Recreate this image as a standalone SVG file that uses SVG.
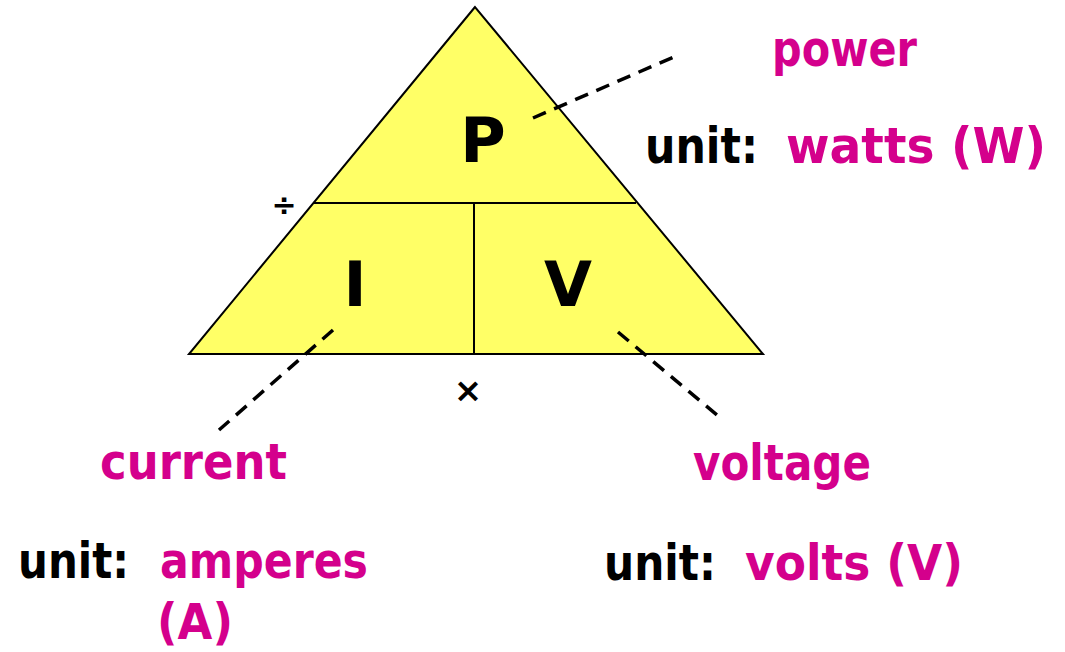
<svg xmlns="http://www.w3.org/2000/svg" width="1065" height="652" viewBox="0 0 1065 652">
<style>
.t{font-family:"DejaVu Sans","Liberation Sans",sans-serif;font-weight:bold;}
.k{fill:#000;}
.m{fill:#D4008C;}
.big{font-size:62px;text-anchor:middle;}
.lab{font-size:50px;}
.dash{stroke:#000;stroke-width:3.5;stroke-dasharray:14 9;fill:none;}
</style>
<rect width="1065" height="652" fill="#fff"/>
<g id="triangle">
<polygon points="475,7 189,354 763,354" fill="#FFFF66" stroke="#000" stroke-width="2"/>
<line x1="314" y1="203" x2="636" y2="203" stroke="#000" stroke-width="2"/>
<line x1="474" y1="203" x2="474" y2="354" stroke="#000" stroke-width="2"/>
</g>
<g id="node-P"><text class="t k big" x="483" y="162">P</text></g>
<g id="node-I"><text class="t k big" x="355" y="306">I</text></g>
<g id="node-V"><text class="t k big" x="568" y="306">V</text></g>
<g id="ops">
<text class="t k" x="284" y="215" font-size="30" text-anchor="middle">÷</text>
<text class="t k" x="468" y="402" font-size="34" text-anchor="middle">×</text>
</g>
<g id="connectors">
<line class="dash" x1="533" y1="118" x2="676" y2="56"/>
<line class="dash" x1="333" y1="330" x2="219" y2="430"/>
<line class="dash" x1="618" y1="332" x2="717" y2="415"/>
</g>
<g id="label-power">
<text class="t m lab" x="772" y="66" textLength="145" lengthAdjust="spacingAndGlyphs">power</text>
<text class="t k lab" x="645" y="163" textLength="113" lengthAdjust="spacingAndGlyphs">unit:</text>
<text class="t m lab" x="786" y="163" textLength="260" lengthAdjust="spacingAndGlyphs">watts (W)</text>
</g>
<g id="label-current">
<text class="t m lab" x="100" y="479" textLength="187" lengthAdjust="spacingAndGlyphs">current</text>
<text class="t k lab" x="18" y="578" textLength="111" lengthAdjust="spacingAndGlyphs">unit:</text>
<text class="t m lab" x="160" y="578" textLength="208" lengthAdjust="spacingAndGlyphs">amperes</text>
<text class="t m lab" x="157" y="639" textLength="76" lengthAdjust="spacingAndGlyphs">(A)</text>
</g>
<g id="label-voltage">
<text class="t m lab" x="693" y="480" textLength="178" lengthAdjust="spacingAndGlyphs">voltage</text>
<text class="t k lab" x="604" y="580" textLength="112" lengthAdjust="spacingAndGlyphs">unit:</text>
<text class="t m lab" x="745" y="580" textLength="218" lengthAdjust="spacingAndGlyphs">volts (V)</text>
</g>
</svg>
